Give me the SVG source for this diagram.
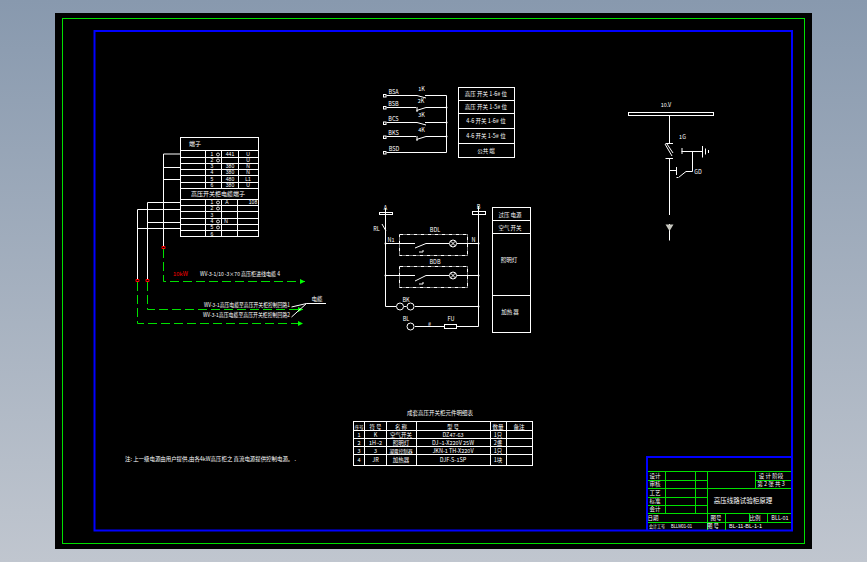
<svg xmlns="http://www.w3.org/2000/svg" width="867" height="562" viewBox="0 0 867 562">
<defs>
<linearGradient id="bg" x1="0" y1="0" x2="0" y2="1"><stop offset="0" stop-color="#8899ae"/><stop offset="1" stop-color="#c0c6cf"/></linearGradient>
<marker id="ga" markerWidth="6" markerHeight="6" refX="5" refY="3" orient="auto" markerUnits="userSpaceOnUse"><path d="M0,0.5L5,3L0,5.500z" fill="#00ff00"/></marker>
</defs>
<style>
text{font-family:"Noto Sans CJK SC","Liberation Sans",sans-serif;font-size:5.500px;fill:#fff;text-anchor:middle}
.s{font-family:"Liberation Sans","Noto Sans CJK SC",sans-serif;font-size:5px}
.c{font-size:4.600px}
.st{text-anchor:start}
.l{fill:none;stroke:#fff;stroke-width:1}
.g{fill:none;stroke:#00e000;stroke-width:1}
.gd{fill:none;stroke:#00e000;stroke-width:1;stroke-dasharray:9 4;marker-end:url(#ga)}
.d{fill:none;stroke:#fff;stroke-width:1;stroke-dasharray:4 1 1 1}
.r{fill:none;stroke:#f00;stroke-width:1}
</style>
<rect width="867" height="562" fill="url(#bg)"/>
<rect x="55" y="13" width="757" height="536" fill="#000"/>
<rect x="62.500" y="18.500" width="742" height="525" fill="none" stroke="#00e000" stroke-width="1"/>
<rect x="94.500" y="31" width="697.500" height="499.500" fill="none" stroke="#0000ff" stroke-width="2"/>

<g id="terminal-table">
<rect class="l" x="180.500" y="137.500" width="78" height="99"/>
<path class="l" d="M180.500 150.500H258.500M180.500 157.500H258.500M180.500 163.500H258.500M180.500 169.500H258.500M180.500 175.500H258.500M180.500 182.500H258.500M180.500 188.500H258.500M180.500 199.500H258.500M180.500 205.500H258.500M180.500 211.500H258.500M180.500 218.500H258.500M180.500 224.500H258.500M180.500 230.500H258.500"/>
<path class="l" d="M205.500 150.500V188.500M221.500 150.500V188.500M238.500 150.500V188.500M205.500 199.500V236.500M221.500 199.500V236.500M237.500 199.500V236.500"/>
<text x="195" y="146" style="font-size:6px">端子</text>
<text x="218" y="196" style="font-size:6px">高压开关柜电缆端子</text>
<g fill="none" stroke="#fff" stroke-width="0.800"><circle cx="218" cy="154.500" r="1.500"/><circle cx="218" cy="160.500" r="1.500"/><circle cx="218" cy="202.500" r="1.500"/><circle cx="218" cy="208.500" r="1.500"/><circle cx="218" cy="221.500" r="1.500"/><circle cx="218" cy="227.500" r="1.500"/></g>
<text class="s" x="212" y="156.300">1</text><text class="s" x="230" y="156.300">441</text><text class="s" x="248" y="156.300">U</text>
<text class="s" x="212" y="162.300">2</text><text class="s" x="248" y="162.300">U</text>
<text class="s" x="212" y="168.300">3</text><text class="s" x="230" y="168.300">380</text><text class="s" x="248" y="168.300">N</text>
<text class="s" x="212" y="174.300">4</text><text class="s" x="230" y="174.300">380</text><text class="s" x="248" y="174.300">N</text>
<text class="s" x="212" y="180.800">5</text><text class="s" x="230" y="180.800">480</text><text class="s" x="248" y="180.800">L1</text>
<text class="s" x="212" y="187">6</text><text class="s" x="230" y="187">380</text><text class="s" x="248" y="187">U</text>
<text class="s" x="212" y="204.300">1</text><text class="s" x="227" y="204.300">A</text><text class="s" x="253" y="204.300">108</text>
<text class="s" x="212" y="210.300">2</text><text class="s" x="212" y="217">3</text>
<text class="s" x="212" y="223.300">4</text><text class="s" x="226" y="223.300">N</text>
<text class="s" x="212" y="229.300">5</text><text class="s" x="212" y="235.500">6</text>
</g>

<g id="connectors">
<path class="l" d="M163.500 246V154H180.500M163.500 167.500H180.500M163.500 179.500H180.500"/>
<path class="l" d="M147.500 279V202.500H180.500M147.500 222.500H180.500"/>
<path class="l" d="M137.500 279V209.500H180.500M137.500 228.500H180.500"/>
<path class="r" d="M162 246.500h3v2h-3zM146 279.500h3v2h-3zM136 279.500h3v2h-3z"/>
<path class="gd" d="M163.500 249V281.500H305"/>
<path class="gd" d="M147.500 282V309.500H303"/>
<path class="gd" d="M137.500 282V323.500H303"/>
<path class="l" d="M326 303.500H306.500L291.500 307M306.500 303.500L291.500 317"/>
</g>

<g id="cable-labels">
<text class="st" x="173" y="275.500" style="fill:#f00" textLength="15" lengthAdjust="spacingAndGlyphs">10kW</text>
<text class="st" x="200" y="275.500" textLength="80" lengthAdjust="spacingAndGlyphs">WV-3-1/10 -3×70 高压柜进线电缆 4</text>
<text class="st" x="204" y="307" textLength="86" lengthAdjust="spacingAndGlyphs">WV-3-1高压电缆至高压开关柜控制回路1</text>
<text class="st" x="203" y="317" textLength="87" lengthAdjust="spacingAndGlyphs">WV-3-1高压电缆至高压开关柜控制回路2</text>
<text x="317" y="301">电缆</text>
</g>

<g id="control-circuit">
<path class="l" d="M386.500 95.500H417L426 98M425 95.500H446.500V152.500H386.500"/>
<path class="l" d="M386.500 107.500H416M416.500 110.500L426 107.500H446.500"/>
<path class="l" d="M386.500 122.500H417L426 125M425 122.500H446.500"/>
<path class="l" d="M386.500 136.500H416M416.500 139.500L426 136.500H446.500"/>
<path class="l" d="M417 107V112M417 136V141"/>
<rect x="383.500" y="94.500" width="2.500" height="2.500" fill="none" stroke="#fff"/>
<rect x="383.500" y="106.500" width="2.500" height="2.500" fill="none" stroke="#fff"/>
<rect x="383.500" y="122" width="2.500" height="2.500" fill="none" stroke="#fff"/>
<rect x="383.500" y="136" width="2.500" height="2.500" fill="none" stroke="#fff"/>
<rect x="383.500" y="151.500" width="2.500" height="2.500" fill="none" stroke="#fff"/>
<text x="393.500" y="94">BSA</text><text x="393.500" y="106">BSB</text><text x="393.500" y="121">BCS</text><text x="393.500" y="135">BKS</text><text x="394" y="151">BSD</text>
<text x="421.500" y="90.500">1K</text><text x="421" y="102.500">2K</text><text x="421.500" y="117">3K</text><text x="421.500" y="132">4K</text>
<circle cx="446.500" cy="107.500" r="1" fill="#fff"/><circle cx="446.500" cy="122.500" r="1" fill="#fff"/><circle cx="446.500" cy="136.500" r="1" fill="#fff"/>
</g>

<g id="control-table">
<rect class="l" x="458.500" y="87.500" width="56" height="70"/>
<path class="l" d="M458.500 100.500H514.500M458.500 113.500H514.500M458.500 128.500H514.500M458.500 143.500H514.500"/>
<text x="486" y="96">高压 开关 1-6# 位</text><text x="486" y="109">高压 开关 1-5# 位</text><text x="486" y="123">4-6 开关 1-6# 位</text><text x="486" y="138">4-6 开关 1-5# 位</text><text x="486" y="152.500">公共 端</text>
</g>

<g id="lamp-circuit">
<path class="l" d="M385.500 208V306.500H396M404 306.500H406.500M415 306.500H478.500M478.500 206V326.500H457M444 326.500H415"/>
<rect class="l" x="379.500" y="212.500" width="13" height="2"/>
<rect class="l" x="472.500" y="211.500" width="13" height="3"/>
<path class="l" d="M385.500 243.500H415M415 248L426 243.500H449M457 243.500H478.500M385.500 275.500H415M415 281L426 275.500H449M457 275.500H478.500"/>
<path class="l" d="M419 252H423V250M419 284H423V282"/>
<path class="l" d="M382 224L386 231"/>
<rect class="d" x="399.500" y="234.500" width="68" height="21"/>
<rect class="d" x="399.500" y="266.500" width="68" height="21"/>
<circle class="l" cx="453" cy="243.500" r="3.500"/><path class="l" d="M450.500 241L455.500 246M455.500 241L450.500 246"/>
<circle class="l" cx="453" cy="275.500" r="3.500"/><path class="l" d="M450.500 273L455.500 278M455.500 273L450.500 278"/>
<circle class="l" cx="400" cy="306.500" r="3.500"/><circle class="l" cx="410.500" cy="306.500" r="3.500"/><circle class="l" cx="410.500" cy="326.500" r="3.500"/>
<rect class="l" x="444.500" y="324.500" width="12" height="4"/>
<circle cx="385.500" cy="243.500" r="1" fill="#fff"/><circle cx="385.500" cy="275.500" r="1" fill="#fff"/><circle cx="478.500" cy="243.500" r="1" fill="#fff"/><circle cx="478.500" cy="275.500" r="1" fill="#fff"/><circle cx="478.500" cy="306.500" r="1" fill="#fff"/>
<text x="385.500" y="209.500">A</text><text x="478.500" y="209">B</text><text x="376.500" y="230.500">RL</text><text x="391" y="242">N1</text><text x="473.500" y="242">N</text>
<text x="435" y="232">BDL</text><text x="435" y="264">BDB</text><text x="406" y="301.500">BK</text><text x="406" y="321">BL</text><text x="429.500" y="325.500">#</text><text x="451" y="320.500">FU</text>
</g>

<g id="lamp-table">
<rect class="l" x="492.500" y="207.500" width="38" height="125"/>
<path class="l" d="M492.500 220.500H530.500M492.500 233.500H530.500M492.500 295.500H530.500"/>
<text x="510" y="216.500">过压 电源</text><text x="510" y="229.500">空气 开关</text><text x="509" y="262">照明灯</text><text x="510" y="314">加热 器</text>
</g>

<g id="single-line">
<rect class="l" x="628.500" y="112.500" width="85" height="3"/>
<path class="l" d="M669.500 115.500V143M665.500 143.500H673M665 144L672 156M667 144L673 153M665.500 158.500H673M669.500 158.500V215M669.500 224V240.500"/>
<path d="M665.500 224.500H673.500L669.500 231z" fill="#c8c8c0"/>
<path class="l" d="M669.500 170.500H676.500M676.500 167V175M676.500 177.500L678 177.500M682 148V154M681.500 151.500H702.500M692.500 151.500V171.500H686L678.500 177.500M702.500 146V157.500M705.500 148.500V154.500M708.500 150V153"/>
<text x="666" y="107">10.V</text><text x="682.500" y="139">1G</text><text x="698" y="174">GD</text>
</g>

<g id="parts-table">
<rect class="l" x="353.500" y="421.500" width="179" height="44"/>
<path class="l" d="M353.500 430.500H532.500M353.500 438.500H532.500M353.500 446.500H532.500M353.500 454.500H532.500"/>
<path class="l" d="M364.500 421.500V465.500M386.500 421.500V465.500M416.500 421.500V465.500M490.500 421.500V465.500M506.500 421.500V465.500"/>
<text x="440" y="415">成套高压开关柜元件明细表</text>
<text x="359" y="428.500" class="c">序号</text><text x="375.500" y="428.500">符 号</text><text x="401" y="428.500">名 称</text><text x="453" y="428.500">型 号</text><text x="498" y="428.500">数量</text><text x="519" y="428.500">备注</text>
<text x="359" y="436.500">1</text><text x="375.500" y="436.500">K</text><text x="401" y="436.500">空气开关</text><text x="453" y="436.500">DZ47-63</text><text x="498" y="436.500">1只</text>
<text x="359" y="444.500">2</text><text x="375.500" y="444.500">1H~2</text><text x="401" y="444.500">照明灯</text><text x="453" y="444.500">DJ~1-X220V 25W</text><text x="498" y="444.500">2盏</text>
<text x="359" y="452.500">3</text><text x="375.500" y="452.500">3</text><text x="401" y="452.500" class="c">凝露控制器</text><text x="453" y="452.500">JKN-1 TH-X220V</text><text x="498" y="452.500">1只</text>
<text x="359" y="462">4</text><text x="375.500" y="462">JR</text><text x="401" y="462">加热器</text><text x="453" y="462">DJF-S-1SP</text><text x="498" y="462">1块</text>
</g>

<text class="st" x="125" y="460.500" textLength="171" lengthAdjust="spacingAndGlyphs">注: 上一级电源由用户提供,由各4kW高压柜之 直流电源提供控制电源。 .</text>

<g id="title-block">
<path class="g" d="M647.500 471.500H791M647.500 480.500H707.500M755.500 480.500H791M647.500 488.500H791M647.500 497.500H707.500M647.500 505.500H707.500M647.500 513.500H791M647.500 522.500H791"/>
<path class="g" d="M665.500 471.500V513.500M695.500 471.500V513.500M707.500 471.500V530M755.500 471.500V488.500M725.500 513.500V530M749.500 513.500V522.500M767.500 513.500V522.500"/>
<path d="M646 457H792" stroke="#00f" stroke-width="2" fill="none"/>
<path d="M647 456V530" stroke="#00f" stroke-width="2" fill="none"/>
<text x="655" y="478">设计</text><text x="655" y="486">审核</text><text x="655" y="495">工艺</text><text x="655" y="503">标准</text><text x="655" y="511">会计</text><text x="653" y="520">日期</text>
<text class="st" x="649" y="528" style="font-size:5px" textLength="16" lengthAdjust="spacingAndGlyphs">会计工号</text><text class="st s" x="671" y="527.500" textLength="21" lengthAdjust="spacingAndGlyphs">BLLM01-01</text>
<text x="771" y="478">设 计 阶段</text><text x="771" y="486">第 2 张 共 3</text>
<text x="743" y="503" style="font-size:6.500px">高压线路试验柜原理</text>
<text x="716" y="519.500">图号</text><text x="755" y="519.500">比例</text><text x="780" y="519.500">BLL-01</text>
<text x="713" y="528">图 号</text><text class="st s" x="729" y="527.500" textLength="33" lengthAdjust="spacingAndGlyphs">BL-11-BL-1-1</text>
</g>
</svg>
